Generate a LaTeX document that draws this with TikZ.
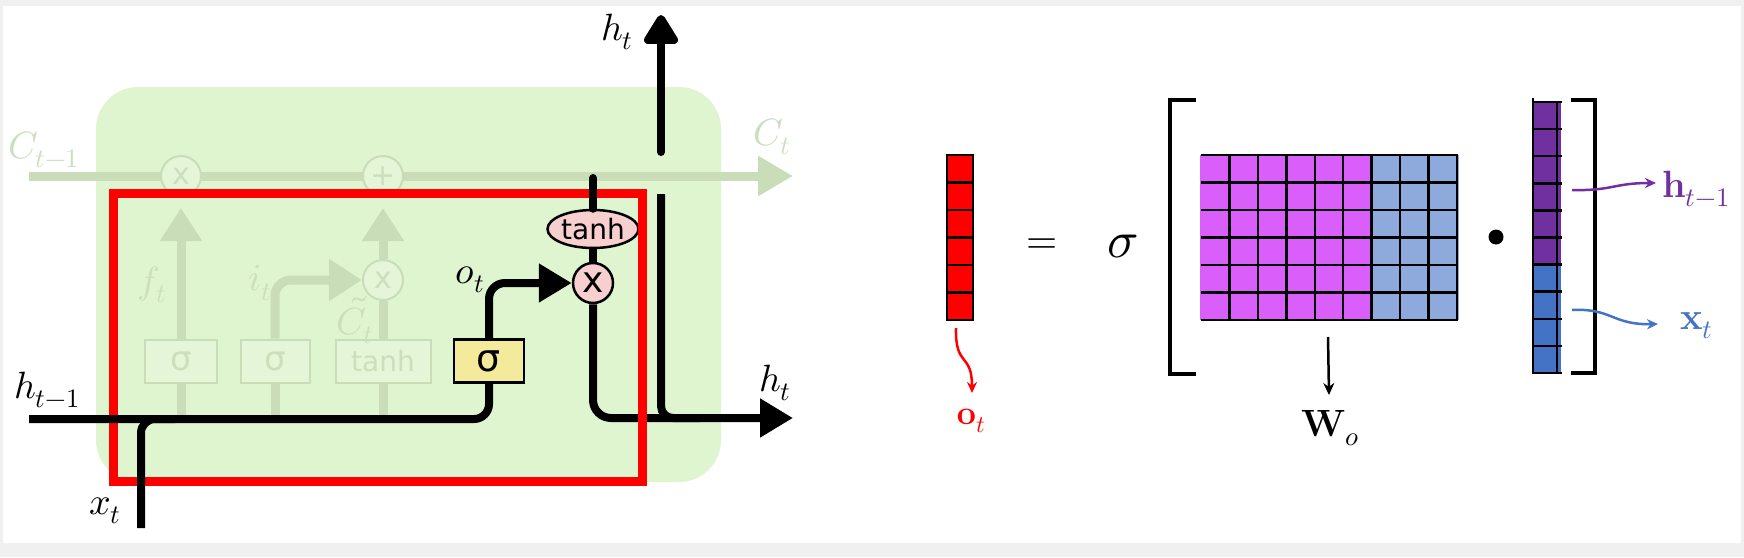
\documentclass[tikz,border=0pt]{standalone}
\usepackage{fontspec}
\usepackage{unicode-math}
\setmathfont{Latin Modern Math}
\newfontfamily\dvsans{DejaVu Sans}
\usetikzlibrary{arrows.meta,shapes.geometric,calc}
\definecolor{framegray}{HTML}{F0F0F0}
\definecolor{cellbg}{HTML}{DFF5CF}
\definecolor{fadedline}{HTML}{C9DDB8}
\definecolor{fadedfill}{HTML}{E4F5D8}
\definecolor{fadedtext}{HTML}{CCDFBD}
\definecolor{sigyellow}{HTML}{F3EA9C}
\definecolor{pinkfill}{HTML}{F7CFCF}
\definecolor{mpurple}{HTML}{D95EFA}
\definecolor{mblue}{HTML}{8EA9DB}
\definecolor{vpurple}{HTML}{7030A0}
\definecolor{vblue}{HTML}{4472C4}
\definecolor{redbox}{HTML}{FF0000}
\tikzset{
  mlbl/.style={inner sep=0pt, font=\fontsize{38}{40}\selectfont},
  flbl/.style={mlbl, text=fadedtext},
  fline/.style={draw=fadedline, line width=9pt},
  fboxs/.style={draw=fadedline, line width=2pt, fill=fadedfill, text=fadedtext, minimum height=43pt, inner sep=0pt, font=\dvsans\fontsize{34}{34}\selectfont},
  fcirc/.style={circle, draw=fadedline, line width=2pt, fill=fadedfill, text=fadedtext, minimum size=40pt, inner sep=0pt, font=\dvsans\fontsize{30}{30}\selectfont},
  bline/.style={draw=black, line width=8pt},
  bigtip/.style={-{Triangle[length=33pt,width=37pt]}},
  ftip/.style={-{Triangle[length=33pt,width=40pt]}},
  gridline/.style={draw=black, line width=2.5pt, line cap=rect},
  rlbl/.style={inner sep=0pt, font=\fontsize{38}{40}\selectfont},
}
\begin{document}
\begin{tikzpicture}[x=1pt,y=-1pt]
\fill[framegray] (0,0) rectangle (1744,557);
\fill[white] (3,6) rectangle (1741,543);
\useasboundingbox (0,0) rectangle (1744,557);

% ---------- LSTM cell (left) ----------
\fill[cellbg, rounded corners=42pt] (96,87) rectangle (721,482);

% faded cell state line
\coordinate (cin) at (29,176);
\coordinate (cout) at (793,176);
\draw[fline, -{Triangle[length=35pt,width=38pt]}] (cin) -- (cout);
\node[flbl] (cprev) at (44,150) {$C_{t-1}$};
\node[flbl] (cnext) at (772,137) {$C_t$};

% faded gates
\node[fboxs, minimum width=72pt] (s1) at (181,361) {σ};
\node[fboxs, minimum width=69pt] (s2) at (275,361) {σ};
\node[fboxs, minimum width=95pt, font=\dvsans\fontsize{28}{28}\selectfont] (th1) at (383,361) {tanh};

% faded lines from gates down to h line
\coordinate (s1b) at (181,419);
\coordinate (s2b) at (275,419);
\coordinate (th1b) at (383,419);
\draw[fline] (s1.south) -- (s1b);
\draw[fline] (s2.south) -- (s2b);
\draw[fline] (th1.south) -- (th1b);

\node[fcirc] (mf) at (181,176) {x};
\node[fcirc] (pl) at (383,176) {+};
\node[fcirc] (mi) at (383,280) {x};

\draw[fline, ftip, shorten >=11pt] (s1.north) -- (mf.south);
\draw[fline, ftip, rounded corners=16pt] (s2.north) |- (mi.west);
\draw[fline] (th1.north) -- (mi.south);
\draw[fline, ftip, shorten >=11pt] (mi.north) -- (pl.south);

\node[flbl] (ft) at (152,285) {$f_t$};
\node[flbl] (it) at (260,283) {$i_t$};
\node[flbl] (ct) at (355,320) {$\tilde{C}_t$};

% red highlight box
\draw[redbox, line width=9pt] (113,193) rectangle (642,481);

% output gate (black)
\node[draw=black, line width=2.5pt, fill=sigyellow, minimum width=70pt, minimum height=43pt, inner sep=0pt,
      font=\dvsans\fontsize{38}{38}\selectfont] (s3) at (489,361) {σ};
\node[ellipse, draw=black, line width=2.5pt, fill=pinkfill, minimum width=91pt, minimum height=38pt, inner sep=0pt,
      font=\dvsans\fontsize{28}{28}\selectfont] (tn) at (593,229) {tanh};
\node[circle, draw=black, line width=2.5pt, fill=pinkfill, minimum size=40pt, inner sep=0pt,
      font=\dvsans\fontsize{36}{36}\selectfont] (mo) at (593,283) {x};

\coordinate (hin) at (29,419);
\coordinate (xin) at (141,528);
\coordinate (xjoin) at (175,419);
\coordinate (ttop) at (593,178);
\coordinate (hout) at (793,418);
\coordinate (vlow) at (661,194);
\coordinate (vjoin) at (700,418);
\coordinate (vup) at (661,152);
\coordinate (htop) at (661,15);

\draw[bline, rounded corners=15pt] (hin) -| (s3.south);
\draw[bline, rounded corners=14pt] (xin) |- (xjoin);
\draw[bline, bigtip, rounded corners=16pt] (s3.north) |- (mo.west);
\draw[bline, line cap=round] (ttop) -- (tn.north);
\draw[bline] (tn.south) -- (mo.north);
\draw[bline, bigtip, rounded corners=18pt] (mo.south) |- (hout);
\draw[bline, rounded corners=12pt] (vlow) |- (vjoin);
\draw[bline, line cap=round, -{Triangle[length=33pt,width=38pt,round=false]}] (vup) -- (htop);

% red right edge on top of h line
\draw[redbox, line width=9pt] (642,188.5) -- (642,485.5);

\node[mlbl] (lht1) at (617,32) {$h_t$};
\node[mlbl] (lht2) at (775,383) {$h_t$};
\node[mlbl] (lot) at (470,280) {$o_t$};
\node[mlbl] (lhp) at (47,390) {$h_{t-1}$};
\node[mlbl] (lxt) at (105,511) {$x_t$};

% ---------- equation (right) ----------
% o_t column
\fill[redbox] (947,155) rectangle (973,320);
\foreach \j in {0,...,6} \draw[gridline] (947,155+27.5*\j) -- (973,155+27.5*\j);
\draw[gridline] (947,155) -- (947,320);
\draw[gridline] (973,155) -- (973,320);
\coordinate (ocol) at (956,328);
\node[rlbl, text=redbox, font=\fontsize{34}{36}\selectfont] (olab) at (971,421) {$\mathbf{o}_t$};
\coordinate (oend) at (972,393);
\draw[redbox, line width=2.5pt, -{Stealth[length=11pt,width=10pt]}] (ocol) .. controls (955,368) and (972,352) .. (oend);

\node[inner sep=0pt, font=\fontsize{40}{40}\selectfont] (eq) at (1042,246) {$=$};
\node[inner sep=0pt, font=\fontsize{52}{52}\selectfont] (sig) at (1123,247) {$\sigma$};

% left bracket
\draw[line width=4pt] (1196,100) -- (1170,100) -- (1170,374) -- (1196,374);

% weight matrix
\fill[mpurple] (1200,155) rectangle (1371.7,320);
\fill[mblue] (1371.7,155) rectangle (1459,320);
\foreach \i in {1,...,9} \draw[gridline] (1201+28.44*\i,155) -- (1201+28.44*\i,320);
\foreach \j in {0,...,6} \draw[gridline] (1202,155+27.5*\j) -- (1457,155+27.5*\j);
\coordinate (wtop) at (1328,337);
\node[rlbl] (wlab) at (1330,428) {$\mathbf{W}_o$};
\coordinate (wend) at (1329,395);
\draw[line width=2.5pt, -{Stealth[length=12pt,width=11pt]}] (wtop) -- (wend);

\fill (1496,237) circle (7.5pt);

% concatenated vector
\fill[vpurple] (1533,102) rectangle (1561,265);
\fill[vblue] (1533,265) rectangle (1561,373);
\draw[gridline] (1533,99) -- (1533,373);
\draw[gridline] (1557,102) -- (1557,373);
\foreach \j in {0,...,10} \draw[gridline] (1533,102+27.1*\j) -- (1561,102+27.1*\j);

% right bracket
\draw[line width=4pt] (1571,100) -- (1595,100) -- (1595,373) -- (1571,373);

\coordinate (hfrom) at (1572,190);
\coordinate (hto) at (1656,183);
\coordinate (xfrom) at (1572,310);
\coordinate (xto) at (1658,324);
\node[rlbl, text=vpurple, anchor=west] (hlab) at (1662,189) {$\mathbf{h}_{t-1}$};
\node[rlbl, text=vblue, anchor=west] (xlab) at (1680,326) {$\mathbf{x}_t$};
\draw[vpurple, line width=2.5pt, -{Stealth[length=11pt,width=10pt]}] (hfrom) .. controls (1612,191) and (1614,183) .. (hto);
\draw[vblue, line width=2.5pt, -{Stealth[length=11pt,width=10pt]}] (xfrom) .. controls (1612,308) and (1612,325) .. (xto);
\end{tikzpicture}
\end{document}
